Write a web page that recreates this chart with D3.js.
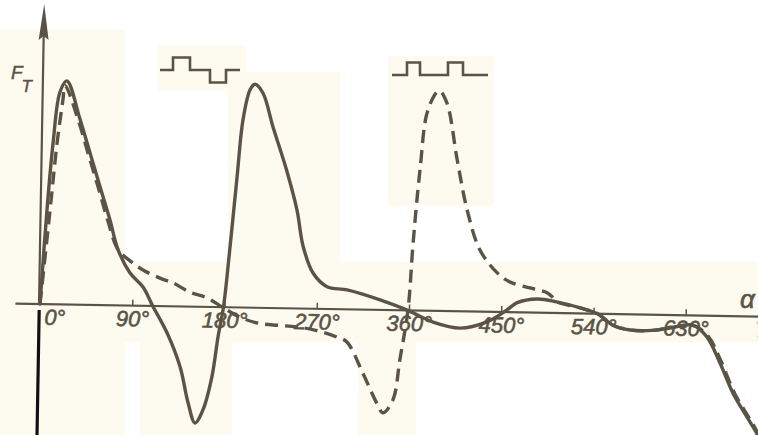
<!DOCTYPE html>
<html><head><meta charset="utf-8">
<script src="https://cdn.jsdelivr.net/npm/d3@7"></script>
<style>html,body{margin:0;padding:0;background:#fff;} svg{display:block;}</style>
</head><body>
<svg id="chart" width="758" height="435"></svg>
<script>
// ---- data (angle in degrees, relative tangential force F_T) ----
const solidDeg = [0, 5.2, 10, 15.9, 22.5, 35.9, 46.2, 56.5, 66.9, 75.1, 87.3, 100.2, 110, 124.5, 137.7, 146.1, 153.2, 160.8, 169, 174.3, 179, 184.4, 190, 194.9, 201.3, 206.1, 214, 224.3, 238.8, 249.1, 255.6, 265.8, 279.7, 299.3, 331.7, 359, 383.7, 410.2, 436.3, 455.6, 465, 485, 504, 527, 544, 559.2, 576, 598.3, 614.8, 637.2, 651.1, 664.2, 677.5, 691.5, 699.7, 706];
const solidVal = [0, 0.42, 0.72, 0.95, 1.0, 0.83, 0.68, 0.53, 0.38, 0.25, 0.146, 0.084, 0, -0.12, -0.27, -0.43, -0.52, -0.46, -0.31, -0.13, 0, 0.27, 0.58, 0.84, 0.975, 1.0, 0.96, 0.81, 0.61, 0.44, 0.28, 0.16, 0.10, 0.087, 0.045, 0, -0.05, -0.075, -0.045, 0.01, 0.042, 0.061, 0.05, 0.025, 0, -0.05, -0.07, -0.07, -0.058, -0.043, -0.095, -0.21, -0.345, -0.45, -0.51, -0.56];
const dashDeg = [0, 8.2, 13.9, 18.9, 20.7, 33.9, 44.2, 54.6, 64.6, 75.1, 87.1, 99.9, 119.6, 129.4, 145.8, 163, 178, 195, 214.6, 234, 250.7, 268.3, 290.3, 300, 316.2, 330.5, 336.5, 346, 352, 359, 362.9, 368.4, 375.2, 385.7, 393.6, 404.4, 415, 428.1, 445.5, 458.1, 477.7, 494.4, 499.5, 504, 527, 544, 559.2, 576, 598.3, 614.8, 637.2, 652, 665, 679, 693, 701, 707];
const dashVal = [0, 0.42, 0.72, 0.915, 0.98, 0.83, 0.68, 0.53, 0.38, 0.25, 0.20, 0.16, 0.12, 0.105, 0.065, 0.04, 0, -0.043, -0.07, -0.077, -0.083, -0.095, -0.125, -0.146, -0.285, -0.42, -0.46, -0.40, -0.22, 0, 0.30, 0.63, 0.90, 0.985, 0.93, 0.68, 0.455, 0.277, 0.175, 0.135, 0.11, 0.09, 0.072, 0.05, 0.025, 0, -0.05, -0.07, -0.07, -0.058, -0.045, -0.09, -0.2, -0.345, -0.45, -0.51, -0.57];
const tickDegrees = [0, 90, 180, 270, 360, 450, 540, 630, 720];
const tickLabels = ["0°", "90°", "180°", "270°", "360°", "450°", "540°", "630°", "720°"];
const yTitle = "F", ySub = "T", xTitle = "α";
// pulse-pattern sketches above the peaks: [position, level]
const pulse1 = [[0,0],[13,1],[30,0],[50,-1],[66,0],[80,0]];
const pulse2 = [[0,0],[15,1],[28,0],[56,1],[71,0],[96,0]];

const ink = "#5b5446";
const svg = d3.select("#chart");

// paper tint patches of the scan
const patches = [[0,30,125,405],[158,46,88,44],[388,56,106,150],[228,72,112,200],[0,262,758,80],[140,330,92,105],[358,320,58,115]];
svg.selectAll("rect.p").data(patches).join("rect")
  .attr("x", d=>d[0]).attr("y", d=>d[1]).attr("width", d=>d[2]).attr("height", d=>d[3])
  .attr("fill", "#fdfbef");

const x = d3.scaleLinear().domain([0, 720]).range([40, 778]);
const y = d3.scaleLinear().domain([0, 1]).range([304, 80.5]);

const g = svg.append("g").attr("transform", "rotate(1,40,304)");

// x axis line
g.append("line").attr("x1", x(-24)).attr("x2", x(720)).attr("y1", y(0)).attr("y2", y(0))
  .attr("stroke", ink).attr("stroke-width", 2.2);

const ax = g.append("g").attr("transform", `translate(0,${y(0)})`)
  .call(d3.axisBottom(x).tickValues(tickDegrees).tickFormat((d,i)=>tickLabels[i])
        .tickSizeInner(-6).tickSizeOuter(0).tickPadding(5));
ax.select(".domain").remove();
ax.selectAll(".tick line").attr("stroke", ink).attr("stroke-width", 1.5)
  .attr("display", d => d === 0 ? "none" : null);
ax.selectAll(".tick text").attr("fill", ink).attr("stroke", ink).attr("stroke-width", 0.6)
  .style("font-family", "'Liberation Sans', Arial, sans-serif")
  .style("font-style", "italic").style("font-size", "22px")
  .attr("text-anchor", d => d === 0 ? "start" : "middle")
  .attr("dx", d => d === 0 ? 4 : 0);

// y axis (upper part with arrow)
g.append("line").attr("x1", 39).attr("x2", 39).attr("y1", y(0)).attr("y2", 30)
  .attr("stroke", ink).attr("stroke-width", 2.2);
g.append("path").attr("d", "M39,4 L34,40 L39,36 L44,40 Z").attr("fill", ink);
// lower part (black)
g.append("line").attr("x1", 39.3).attr("x2", 39.3).attr("y1", y(0) + 6).attr("y2", 445)
  .attr("stroke", "#111").attr("stroke-width", 3.2);

const line = d3.line().x(d => x(d[0])).y(d => y(d[1])).curve(d3.curveCatmullRom.alpha(0.5));
g.append("path").datum(solidDeg.map((d,i)=>[d, solidVal[i]]))
  .attr("d", line).attr("fill", "none").attr("stroke", ink).attr("stroke-width", 3.4)
  .attr("stroke-linejoin", "round").attr("stroke-linecap", "round");
g.append("path").datum(dashDeg.map((d,i)=>[d, dashVal[i]]))
  .attr("d", line).attr("fill", "none").attr("stroke", ink).attr("stroke-width", 3.4)
  .attr("stroke-dasharray", "13,7");

// axis titles
const ft = svg.append("text").attr("x", 11).attr("y", 79).attr("fill", ink).attr("stroke", ink).attr("stroke-width", 0.5)
  .style("font-family", "'Liberation Sans', Arial, sans-serif").style("font-style", "italic").style("font-size", "19px");
ft.append("tspan").text(yTitle);
ft.append("tspan").attr("dx", -1).attr("dy", 13).style("font-size", "17px").text(ySub);
svg.append("text").attr("x", 740).attr("y", 308).attr("fill", ink).attr("stroke", ink).attr("stroke-width", 0.6)
  .style("font-family", "'Liberation Sans', Arial, sans-serif").style("font-style", "italic").style("font-size", "26px")
  .text(xTitle);

// pulse sketches
function pulse(data, x0, yBase) {
  const px = d3.scaleLinear().domain([0, 1]).range([x0, x0 + 1]);
  const py = d3.scaleLinear().domain([0, 1]).range([yBase, yBase - 12.5]);
  svg.append("path").datum(data)
    .attr("d", d3.line().x(d => px(d[0])).y(d => py(d[1])).curve(d3.curveStepAfter))
    .attr("fill", "none").attr("stroke", ink).attr("stroke-width", 2.6);
}
pulse(pulse1, 160, 70);
pulse(pulse2, 392, 75);
</script>
</body></html>
